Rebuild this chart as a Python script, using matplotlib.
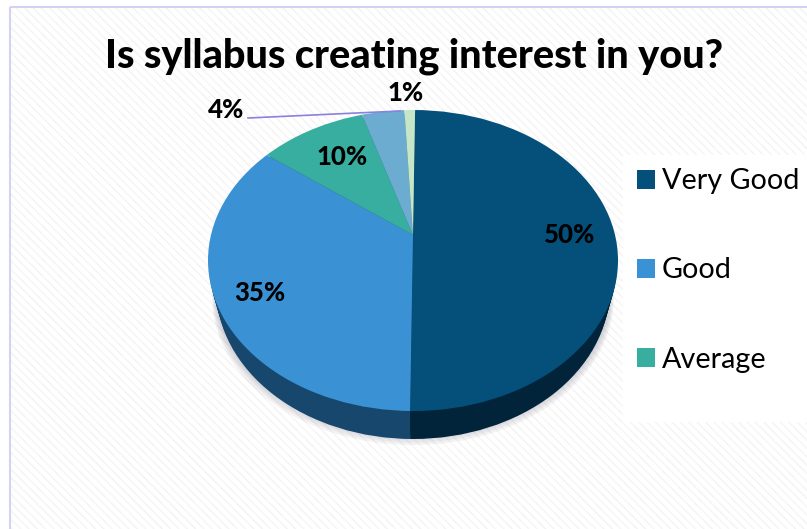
from matplotlib import pyplot as plt
from matplotlib.patches import Ellipse, Patch, Rectangle

title = "Is syllabus creating interest in you?"
categories = ["Very Good", "Good", "Average", "Poor", "Very Poor"]
values = [50, 35, 10, 4, 1]
top_colors = ["#04507a", "#3a92d4", "#37ae9f", "#6bacd0", "#c6e6c8"]
side_colors = ["#02243a", "#17476c", "#1c5a55", "#2f5f7a", "#5f7a62"]

W, H = 807, 529
plt.rcParams["font.family"] = ["Lato", "DejaVu Sans"]

fig = plt.figure(figsize=(W / 100, H / 100), dpi=100)
fig.patch.set_facecolor("white")

# background with the striped texture and the chart border
bg = fig.add_axes([0, 0, 1, 1], zorder=0)
bg.set_xlim(0, W)
bg.set_ylim(H, 0)
bg.axis("off")
bg.add_patch(Rectangle((10, 7), W, H, facecolor="white", edgecolor="#f3f3f3",
                       hatch="\\\\\\\\", linewidth=0))
# faint checker over the stripes
for col in range(0, 51):
    for row in range(0, 34):
        if (col + row) % 2 == 0:
            bg.add_patch(Rectangle((10 + col * 16, 7 + row * 16), 16, 16,
                                   facecolor="white", alpha=0.3, edgecolor="none"))
bg.add_patch(Rectangle((10, 7), W, H, fill=False, edgecolor="#d2d2f2", linewidth=1.5))
bg.add_patch(Rectangle((623, 155), 184, 267, facecolor="white", edgecolor="none"))

# pie: unit circle is stretched to the ellipse of the picture
cx, cy, rx, ry = 413, 260.5, 205, 150.5
apex = 25.5 / ry  # slices meet above the ellipse centre, like the 3d view
depth = 28 / ry

pie_ax = fig.add_axes([0, 0, 1, 1], zorder=1)
pie_ax.patch.set_alpha(0)


def draw_disc(offset, colors, width=1.0):
    # slices come out of the raised apex and are cut to the ellipse
    wedges, _ = pie_ax.pie(values, colors=colors, startangle=89.3, counterclock=False,
                           center=(0, offset + apex), radius=1.5,
                           wedgeprops={"linewidth": 0})
    outline = Ellipse((0, offset), 2 * width, 2, transform=pie_ax.transData)
    for wedge in wedges:
        wedge.set_clip_on(True)
        wedge.set_clip_path(outline)
    return wedges


for i in range(5):
    pie_ax.pie([1], colors=["#8f8f9f"], center=(0, -depth - 0.012 * (i + 1)),
               radius=0.96 + 0.004 * (i + 1),
               wedgeprops={"linewidth": 0, "alpha": 0.1})
for k in range(8, 0, -1):
    draw_disc(-depth * k / 8, side_colors, width=1 - 0.04 * k / 8)
draw_disc(0, top_colors)

pie_ax.set_aspect("auto")
pie_ax.set_xlim((0 - cx) / rx, (W - cx) / rx)
pie_ax.set_ylim((cy - H) / ry, cy / ry)

# title, labels and legend use picture pixels
top = fig.add_axes([0, 0, 1, 1], zorder=2)
top.patch.set_alpha(0)
top.set_xlim(0, W)
top.set_ylim(H, 0)
top.axis("off")

top.text(414, 56, title, ha="center", va="center", fontsize=28.5, fontweight=900)

label_xy = [(570, 235), (260, 293), (342, 157), (226, 110), (406, 93)]
for val, (x, y) in zip(values, label_xy):
    top.text(x, y, f"{val}%", ha="center", va="center", fontsize=18.5, fontweight=900)
top.plot([248, 400], [118, 111], color="#8a80e0", linewidth=1.2)

handles = [Patch(facecolor=c, linewidth=0) for c in top_colors[:3]]
top.legend(handles, categories[:3], loc="center left",
           bbox_to_anchor=(637 / W, 1 - 270.5 / H), bbox_transform=fig.transFigure,
           frameon=False, fontsize=20.7, handlelength=0.63, handleheight=0.63,
           handletextpad=0.24, labelspacing=2.2, borderpad=0, borderaxespad=0)

fig.savefig("out.png", dpi=100)
